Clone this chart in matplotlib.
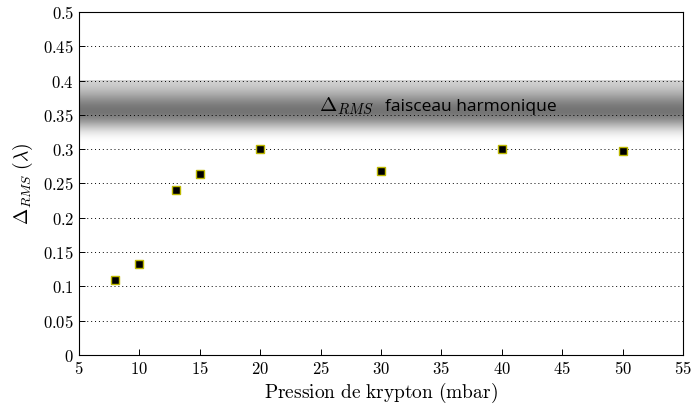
import numpy as np
import matplotlib
matplotlib.use("Agg")
import matplotlib.pyplot as plt
from matplotlib.colors import LinearSegmentedColormap

plt.rcParams["mathtext.fontset"] = "cm"

# Measurements
pressure_mbar = [8, 10, 13, 15, 20, 30, 40, 50]
delta_rms = [0.109, 0.132, 0.241, 0.264, 0.300, 0.268, 0.300, 0.297]

# Reference level of the harmonic beam
beam_level = 0.355
beam_low, beam_high = 0.31, 0.40

x_ticks = [5, 10, 15, 20, 25, 30, 35, 40, 45, 50, 55]
y_ticks = [0, 0.05, 0.1, 0.15, 0.2, 0.25, 0.3, 0.35, 0.4, 0.45, 0.5]
y_tick_labels = ["0", "0.05", "0.1", "0.15", "0.2", "0.25", "0.3", "0.35", "0.4", "0.45", "0.5"]

fig = plt.figure(figsize=(6.91, 4.09), dpi=100)
ax = fig.add_axes([0.1143, 0.132, 0.8741, 0.8387])

# Grey shaded band around the beam level: sharp upper edge, soft lower fade
yy = np.linspace(beam_low, beam_high, 400)
t_lo = (beam_level - yy) / (beam_level - beam_low)
t_hi = (yy - beam_level) / (beam_high - beam_level)
upper = 0.25 + 0.75 * np.exp(-2.5 * t_hi**2)
lower = np.exp(-3.0 * t_lo**2) * (1 - t_lo**4)
shade = np.clip(np.where(yy < beam_level, lower, upper), 0, 1)
cmap = LinearSegmentedColormap.from_list("band", ["#ffffff", "#747474"])
ax.imshow(shade[:, None], aspect="auto", cmap=cmap, vmin=0, vmax=1,
          extent=[5, 55, beam_low, beam_high], origin="lower",
          interpolation="bilinear", zorder=0)

ax.set_xlim(5, 55)
ax.set_ylim(0, 0.5)
ax.set_xticks(x_ticks)
ax.set_xticklabels([f"${v}$" for v in x_ticks], fontsize=12)
ax.set_yticks(y_ticks)
ax.set_yticklabels([f"${s}$" for s in y_tick_labels], fontsize=12)
ax.tick_params(direction="in", length=4, width=0.7, top=False, right=False)
ax.yaxis.grid(True, linestyle=(0, (1, 3)), color="black", linewidth=0.7)
ax.set_axisbelow(False)
for s in ax.spines.values():
    s.set_linewidth(0.8)

ax.plot(pressure_mbar, delta_rms, linestyle="none", marker="s", markersize=6,
        markerfacecolor="black", markeredgecolor="#bdb800", markeredgewidth=1.0, zorder=5)

ax.text(24.9, 0.362, r"$\Delta_{RMS}$", fontsize=15, va="center", ha="left")
ax.text(30.3, 0.362, "faisceau harmonique", fontsize=12.5, family="Open Sans",
        va="center", ha="left")

ax.set_xlabel(r"$\mathrm{Pression\ de\ krypton\ (mbar)}$", fontsize=14, labelpad=2)
ax.set_ylabel(r"$\Delta_{RMS}\ (\lambda)$", fontsize=14, labelpad=6)

fig.savefig("out.png", dpi=100)
